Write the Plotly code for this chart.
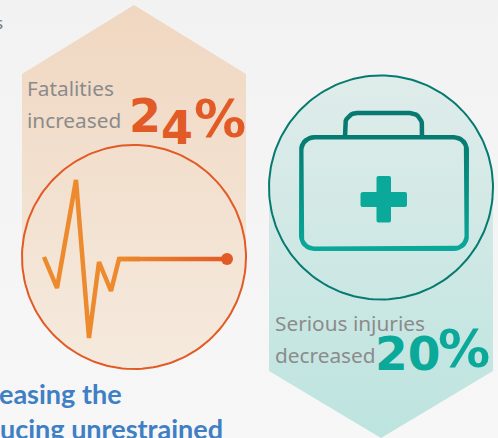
import math
import plotly.graph_objects as go

# ---- data ----
metric_labels = [["Fatalities", "increased"], ["Serious injuries", "decreased"]]
metric_numbers = ["24", "20"]
heading_fragments = ["easing the", "ucing unrestrained"]
corner_fragment = "s"

ecg_x = [44, 57, 76, 89, 99, 111, 119, 140]
ecg_y = [257, 288, 180, 338, 262, 291, 259, 259]
ecg_end = [227, 259]

ORANGE = "#e25a26"
AMBER = "#ec8a2d"
TEAL = "#0aa99a"
TEAL_DARK = "#067a70"
GREY = "#8b8b8b"
BLUE = "#3f7fc4"


def grad_poly(xs, ys, c0, c1, start, stop, line=None, width=0, orient="vertical"):
    return go.Scatter(
        x=xs, y=ys, mode="lines", fill="toself", hoverinfo="skip", showlegend=False,
        line=dict(color=line or "rgba(0,0,0,0)", width=width),
        fillgradient=dict(type=orient, start=start, stop=stop,
                          colorscale=[[0, c0], [1, c1]]),
    )


def circle(cx, cy, r):
    a = [2 * math.pi * i / 180 for i in range(181)]
    return [cx + r * math.cos(t) for t in a], [cy + r * math.sin(t) for t in a]


def round_rect(x0, y0, x1, y1, r):
    xs, ys = [], []
    for cx, cy, s in [(x1 - r, y0 + r, -90), (x1 - r, y1 - r, 0), (x0 + r, y1 - r, 90), (x0 + r, y0 + r, 180)]:
        for d in range(0, 91, 10):
            t = math.radians(s + d)
            xs.append(cx + r * math.cos(t))
            ys.append(cy + r * math.sin(t))
    return xs + xs[:1], ys + ys[:1]


fig = go.Figure()
# page background
fig.add_trace(grad_poly([0, 498, 498, 0, 0], [0, 0, 438, 438, 0], "#f2f2f2", "#f7f7f7", 0, 438))

# left pentagon and circle share one gradient
fig.add_trace(grad_poly([134, 246, 246, 22, 22, 134], [5, 74, 257, 257, 74, 5], "#f0d7c1", "#f5eade", 5, 369))
cx, cy = circle(134, 257, 112)
fig.add_trace(grad_poly(cx, cy, "#f0d7c1", "#f5eade", 5, 369, ORANGE, 2))

# ECG trace
fig.add_trace(go.Scatter(x=ecg_x, y=ecg_y, mode="lines", hoverinfo="skip", showlegend=False,
                         line=dict(color=AMBER, width=4.5)))
fig.add_trace(grad_poly([119, 227, 227, 119, 119], [256.8, 256.8, 261.2, 261.2, 256.8],
                        AMBER, ORANGE, 119, 227, orient="horizontal"))
fig.add_trace(go.Scatter(x=[ecg_end[0]], y=[ecg_end[1]], mode="markers", hoverinfo="skip", showlegend=False,
                         marker=dict(color=ORANGE, size=12)))

# right pentagon and circle share one gradient
fig.add_trace(grad_poly([269, 493, 493, 381, 269, 269], [187, 187, 371, 438, 371, 187], "#dfecea", "#bde4df", 76, 438))
cx, cy = circle(381, 187.5, 112)
fig.add_trace(grad_poly(cx, cy, "#dfecea", "#bde4df", 76, 438, TEAL_DARK, 2))

# case body as a ring
ox, oy = round_rect(299, 135, 469, 251, 15)
ix, iy = round_rect(303.5, 139.5, 464.5, 246.5, 11)
fig.add_trace(grad_poly(ox + ix[::-1] + ox[:1], oy + iy[::-1] + oy[:1], TEAL_DARK, TEAL, 135, 251))
# case handle
hx, hy = round_rect(345, 113, 422, 170, 12)
keep = [(a, b) for a, b in zip(hx, hy) if b < 137]
keep = sorted(keep, key=lambda p: p[0])
fig.add_trace(go.Scatter(x=[345] + [p[0] for p in keep] + [422], y=[137] + [p[1] for p in keep] + [137],
                         mode="lines", hoverinfo="skip", showlegend=False,
                         line=dict(color=TEAL_DARK, width=4.5)))
# cross
shapes = [dict(type="path", path="M363 192 H376.5 V178 Q376.5 176 378.5 176 H389 Q391 176 391 178 V192 H405 Q407 192 407 194 V205 Q407 207 405 207 H391 V220.5 Q391 222.5 389 222.5 H378.5 Q376.5 222.5 376.5 220.5 V207 H362.5 Q360.5 207 360.5 205 V194 Q360.5 192 363 192 Z",
               fillcolor=TEAL, line_width=0, layer="above")]

ann = []


def t(x, y, s, size, color, family="Noto Sans", shift=0):
    ann.append(dict(x=x, y=y, text=s, showarrow=False, xanchor="left", yanchor="middle",
                    xshift=shift, font=dict(size=size, color=color, family=family)))


t(25, 88, metric_labels[0][0], 20.8, GREY)
t(25, 120, metric_labels[0][1], 20.8, GREY)
t(273, 323, metric_labels[1][0], 20.8, GREY)
t(273, 355, metric_labels[1][1], 20.8, GREY)

n0 = metric_numbers[0]
t(127, 122, "<b>" + n0[0] + '<span style="baseline-shift:-12px">' + n0[1] + "</span></b>", 46, ORANGE, "DejaVu Sans")
t(192, 119, "<b>%</b>", 52, ORANGE, "DejaVu Sans")
t(373, 353, "<b>" + metric_numbers[1] + "</b>", 47, TEAL, "DejaVu Sans")
t(436, 349, "<b>%</b>", 52, TEAL, "DejaVu Sans")

t(0, 393, "<b>" + heading_fragments[0] + "</b>", 27, BLUE, "Lato", shift=-3)
t(0, 428, "<b>" + heading_fragments[1] + "</b>", 27, BLUE, "Lato", shift=-2)
t(0, 22, corner_fragment, 17, "#777777", shift=-7)

fig.update_layout(
    width=498, height=438, margin=dict(l=0, r=0, t=0, b=0), showlegend=False,
    paper_bgcolor="#f5f5f5", plot_bgcolor="#f5f5f5",
    xaxis=dict(range=[0, 498], visible=False, fixedrange=True),
    yaxis=dict(range=[438, 0], visible=False, fixedrange=True),
    annotations=ann, shapes=shapes,
)
fig.write_html("out.html", config=dict(displayModeBar=False),
               post_script="document.body.style.margin='0';")
